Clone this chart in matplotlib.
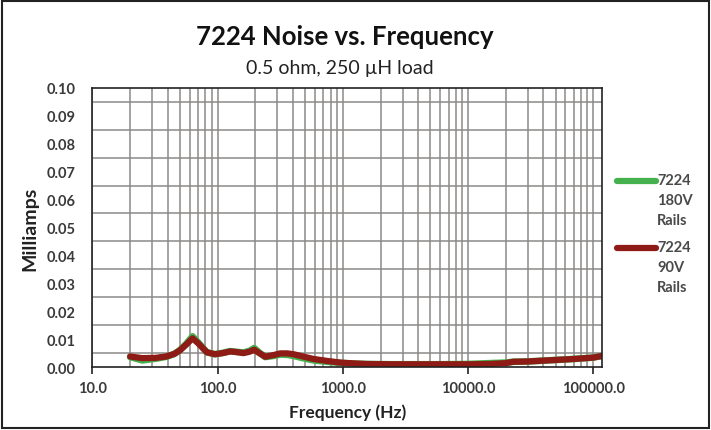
#!/usr/bin/env python3
"""
Noise vs. frequency for the 7224 amplifier, 0.5 ohm / 250 uH load
"""

import numpy as np
from matplotlib import pyplot as plt
from matplotlib.lines import Line2D
from matplotlib.patches import Rectangle
from matplotlib.ticker import FixedLocator, LogLocator, NullFormatter

# Data
freq = [20, 25, 32, 39, 45, 50, 56, 63, 70, 82, 95, 110, 126, 145, 161,
        180, 196, 215, 240, 280, 316, 360, 404, 480, 584, 750, 955, 1250,
        1550, 2500, 4000, 6000, 10000, 15000, 20000, 23000, 30000, 48000,
        70000, 100000, 118000]
rails_180v = [0.0036, 0.0024, 0.0030, 0.0037, 0.0047, 0.0061, 0.0083,
              0.0110, 0.0088, 0.0053, 0.0046, 0.0051, 0.0057, 0.0054,
              0.0052, 0.0058, 0.0068, 0.0052, 0.0036, 0.0040, 0.0045,
              0.0044, 0.0040, 0.0032, 0.0024, 0.0019, 0.0015, 0.0012,
              0.0011, 0.0010, 0.0010, 0.0010, 0.0011, 0.0014, 0.0016,
              0.0019, 0.0020, 0.0025, 0.0029, 0.0034, 0.0040]
rails_90v = [0.0038, 0.0032, 0.0033, 0.0038, 0.0047, 0.0060, 0.0080,
             0.0103, 0.0085, 0.0053, 0.0046, 0.0050, 0.0056, 0.0053,
             0.0050, 0.0055, 0.0062, 0.0050, 0.0037, 0.0043, 0.0049,
             0.0049, 0.0046, 0.0038, 0.0029, 0.0022, 0.0016, 0.0013,
             0.0011, 0.0010, 0.0010, 0.0010, 0.0010, 0.0011, 0.0014,
             0.0019, 0.0020, 0.0025, 0.0029, 0.0034, 0.0040]
series_names = ['7224\n180V\nRails', '7224\n90V\nRails']

x_ticks = [10, 100, 1000, 10000, 100000]
x_labels = ['10.0', '100.0', '1000.0', '10000.0', '100000.0']
y_ticks = [0.00, 0.01, 0.02, 0.03, 0.04, 0.05, 0.06, 0.07, 0.08, 0.09, 0.10]

if __name__ == '__main__':
    plt.rcParams['font.family'] = ['Lato', 'DejaVu Sans']

    W, H = 711, 431
    fig = plt.figure(figsize=(W / 100, H / 100), dpi=100)
    ax = fig.add_axes([0.130, 0.146, 0.717, 0.648])

    green = '#45b04e'
    red = '#8e1b15'
    grid_col = '#8c8a88'
    text_col = '#3a3a3a'
    colors = [green, red]

    ax.plot(freq, rails_180v, color=green, lw=4.8, solid_capstyle='round')
    ax.plot(freq, rails_90v, color=red, lw=4.5, solid_capstyle='round')

    ax.set_xscale('log')
    ax.set_xlim(10, 118000)
    ax.set_ylim(0, 0.10)

    # x axis: decades labelled, grid on every 1..9 line
    ax.xaxis.set_major_locator(FixedLocator(x_ticks))
    ax.set_xticklabels(x_labels)
    ax.xaxis.set_minor_locator(LogLocator(base=10, subs=np.arange(2, 10)))
    ax.xaxis.set_minor_formatter(NullFormatter())
    ax.grid(True, which='both', axis='x', color=grid_col, lw=1.1)

    # y axis: labels on the hundredths, grid half a step off (as drawn)
    ax.set_yticks(y_ticks)
    ax.set_yticklabels(['{:.2f}'.format(v) for v in y_ticks])
    ax.yaxis.set_minor_locator(FixedLocator(np.arange(0.005, 0.1, 0.01)))
    ax.grid(True, which='minor', axis='y', color=grid_col, lw=1.1)
    ax.set_axisbelow(True)

    ax.tick_params(axis='x', which='major', length=5, width=1.2,
                   labelsize=10.5, pad=5, colors='#222222',
                   labelcolor=text_col)
    ax.tick_params(axis='x', which='minor', length=0)
    ax.tick_params(axis='y', which='both', length=0, labelsize=10.5,
                   pad=12, labelcolor=text_col)
    for lbl in ax.get_xticklabels() + ax.get_yticklabels():
        lbl.set_fontweight('bold')
    for s in ax.spines.values():
        s.set_linewidth(1.2)
        s.set_color('#222222')

    ax.set_xlabel('Frequency (Hz)', fontsize=12.5, fontweight='bold',
                  labelpad=6, color='#222222')
    ax.set_ylabel('Milliamps', fontsize=14, fontweight='bold', labelpad=6,
                  color='#222222')

    fig.text(0.485, 0.914, '7224 Noise vs. Frequency', ha='center',
             va='center', fontsize=18.5, fontweight='bold', color='#111111')
    fig.text(0.478, 0.842, '0.5 ohm, 250 \u00b5H load', ha='center',
             va='center', fontsize=14, color='#222222')

    # Legend on the right, key beside the first line of each label
    leg_y = [182, 249]
    for name, col, yy in zip(series_names, colors, leg_y):
        fig.add_artist(Line2D([617 / W, 656 / W], [1 - yy / H, 1 - yy / H],
                              color=col, lw=4.5, solid_capstyle='round'))
        fig.text(657 / W, 1 - (yy - 8) / H, name, ha='left', va='top',
                 fontsize=10.5, fontweight='bold', color='#4a4a4a',
                 linespacing=1.55)

    # Outer chart frame
    fig.add_artist(Rectangle((0.003, 0.004), 0.994, 0.992,
                             transform=fig.transFigure, fill=False,
                             ec='#222222', lw=1.5))

    plt.savefig('out.png', dpi=100)
